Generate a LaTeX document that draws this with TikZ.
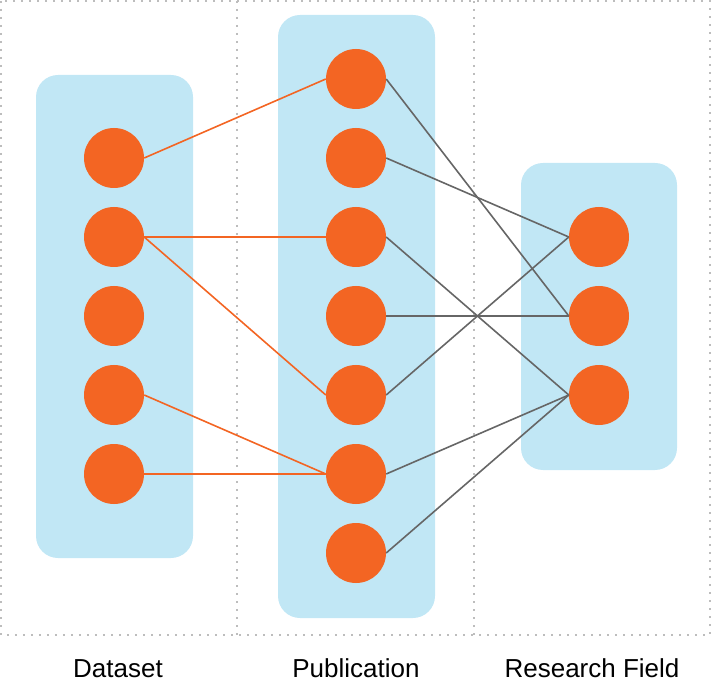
\documentclass[tikz,border=0pt]{standalone}
\usepackage{fontspec}
\setmainfont{Liberation Sans}
\definecolor{dotorange}{HTML}{F36523}
\definecolor{panelblue}{HTML}{C1E7F5}
\definecolor{linkgray}{HTML}{666666}
\definecolor{gridgray}{HTML}{BDBDBD}
\begin{document}
\begin{tikzpicture}[x=1pt,y=-1pt,
    entity/.style={circle,fill=dotorange,minimum size=60pt,inner sep=0pt},
    panel/.style={fill=panelblue,rounded corners=22pt},
    dslink/.style={dotorange,line width=1.6pt},
    fieldlink/.style={linkgray,line width=1.6pt},
    caption/.style={font=\fontsize{26}{30}\selectfont,anchor=base}]
      \useasboundingbox (0,0) rectangle (712,700);

      % frame
      \draw[gridgray,line width=1.6pt,dash pattern=on 1.6pt off 6.4pt]
        (1,1) rectangle (710,635) (237,1) -- (237,635) (474,1) -- (474,635);

      \fill[panel] (36,75) rectangle (193,558);
      \fill[panel] (278,15) rectangle (435,618);
      \fill[panel] (521,163) rectangle (677,470);

      \foreach \i in {1,...,5}
        \node[entity] (d\i) at (114,{79+79*\i}) {};
      \foreach \i in {1,...,7}
        \node[entity] (p\i) at (356,{79*\i}) {};
      \foreach \i in {1,...,3}
        \node[entity] (r\i) at (599,{158+79*\i}) {};

      % links leave from the east side and arrive at the west side
      \draw[dslink] (d1.east) -- (p1.west);
      \draw[dslink] (d2.east) -- (p3.west);
      \draw[dslink] (d2.east) -- (p5.west);
      \draw[dslink] (d4.east) -- (p6.west);
      \draw[dslink] (d5.east) -- (p6.west);

      \draw[fieldlink] (p1.east) -- (r2.west);
      \draw[fieldlink] (p2.east) -- (r1.west);
      \draw[fieldlink] (p3.east) -- (r3.west);
      \draw[fieldlink] (p4.east) -- (r2.west);
      \draw[fieldlink] (p5.east) -- (r1.west);
      \draw[fieldlink] (p6.east) -- (r3.west);
      \draw[fieldlink] (p7.east) -- (r3.west);

      \node[caption] (dlabel) at (118,677) {Dataset};
      \node[caption] (plabel) at (356,677) {Publication};
      \node[caption] (rlabel) at (592,677) {Research Field};
    \end{tikzpicture}
\end{document}
